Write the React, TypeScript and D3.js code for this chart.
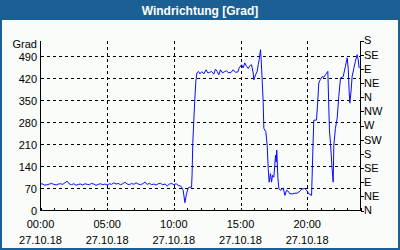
import React from "react";
import * as d3 from "d3";

const hours = [
  0, 0.17, 0.33, 0.5, 0.67, 0.83, 1, 1.17, 1.33, 1.5, 1.67, 1.83, 2, 2.17, 2.33, 2.5, 2.67, 2.83,
  3, 3.17, 3.33, 3.5, 3.67, 3.83, 4, 4.17, 4.33, 4.5, 4.67, 4.83, 5, 5.17, 5.33, 5.5, 5.67, 5.83,
  6, 6.17, 6.33, 6.5, 6.67, 6.83, 7, 7.17, 7.33, 7.5, 7.67, 7.83, 8, 8.17, 8.33, 8.5, 8.67, 8.83,
  9, 9.17, 9.33, 9.5, 9.67, 9.83, 10, 10.17, 10.33, 10.5,
  10.58, 10.7, 10.83, 10.95, 11.08, 11.2, 11.33, 11.37, 11.42, 11.5, 11.57, 11.65, 11.73, 11.85,
  11.95, 12.1, 12.25, 12.42, 12.55, 12.7, 12.82, 13, 13.12, 13.25, 13.37, 13.5, 13.65, 13.8,
  13.95, 14.1, 14.3, 14.45, 14.62, 14.8, 14.9, 15.08, 15.2, 15.32, 15.45, 15.58, 15.7, 15.83,
  15.95, 16, 16.13, 16.25, 16.33, 16.4, 16.5, 16.55, 16.63, 16.7, 16.75, 16.9, 17, 17.08, 17.15,
  17.25, 17.33, 17.4, 17.5, 17.63, 17.68, 17.72, 17.8, 17.88, 18.03, 18.2, 18.33, 18.45, 18.58,
  18.7, 18.9, 19.08, 19.25, 19.45, 19.6, 19.82, 19.95, 20.12, 20.33, 20.37, 20.45, 20.5, 20.7,
  20.8, 20.87, 21, 21.12, 21.25, 21.37, 21.55, 21.67, 21.75, 21.87, 21.95, 22, 22.12, 22.25,
  22.37, 22.5, 22.7, 22.87, 23, 23.08, 23.15, 23.2, 23.3, 23.37, 23.5, 23.62, 23.75, 23.83, 23.9,
];

const degrees = [
  85, 84, 80, 82, 84, 86, 83, 81, 84, 85, 83, 88, 93, 84, 82, 85, 80, 83,
  84, 81, 85, 83, 82, 86, 84, 80, 83, 85, 82, 84, 81, 85, 83, 88, 84, 86,
  82, 85, 90, 84, 82, 86, 83, 88, 84, 82, 85, 90, 83, 86, 82, 84, 81, 85,
  86, 82, 84, 78, 84, 86, 82, 85, 80, 78,
  74, 64, 25, 53, 72, 74, 74, 117, 213, 287, 351, 410, 437, 442,
  434, 441, 434, 447, 437, 439, 442, 433, 449, 442, 431, 447, 437, 441,
  444, 437, 439, 447, 439, 440, 453, 463, 453, 469, 458, 451, 460, 463,
  437, 415, 431, 442, 463, 479, 511, 479, 410, 346, 261, 250, 208, 133, 90,
  117, 90, 112, 106, 176, 154, 192, 106, 69, 64, 72, 48, 64, 61,
  53, 53, 55, 55, 61, 68, 70, 64, 53, 48, 106, 224, 287, 287,
  351, 405, 417, 425, 423, 431, 442, 256, 213, 133, 90, 208, 261, 293,
  362, 421, 425, 458, 485, 452, 378, 341, 383, 425, 452, 474, 495, 479, 452,
];

const yTicks = [0, 70, 140, 210, 280, 350, 420, 490];
const compassTicks = [0, 45, 90, 135, 180, 225, 270, 315, 360, 405, 450, 495, 540];
const compassLabels = ["N", "NE", "E", "SE", "S", "SW", "W", "NW", "N", "NE", "E", "SE", "S"];
const xMajorHours = [0, 5, 10, 15, 20];
const xTimeLabels = ["00:00", "05:00", "10:00", "15:00", "20:00"];
const dateLabel = "27.10.18";
const title = "Windrichtung [Grad]";
const unitLabel = "Grad";

const W = 400;
const H = 250;
const FONT = "'Liberation Sans', Arial, sans-serif";

export default function App() {
  const x = d3.scaleLinear().domain([0, 24]).range([40.5, 360.5]);
  const y = d3.scaleLinear().domain([0, 540]).range([210.5, 40.5]);
  const pts = hours.map((h, i) => [h, degrees[i]] as [number, number]);
  const line = d3
    .line<[number, number]>()
    .x((d) => x(d[0]))
    .y((d) => y(d[1]));
  const hourTicks = d3.range(0, 25);

  return (
    <svg
      width={W}
      height={H}
      style={{ position: "fixed", left: 0, top: 0, display: "block" }}
      fontFamily={FONT}
    >
      <rect x={0} y={0} width={W} height={H} fill="#1c5f94" />
      <rect x={2} y={20} width={W - 4} height={H - 22} fill="#f9fcf9" />
      <text
        x={W / 2}
        y={14.5}
        textAnchor="middle"
        fill="#ffffff"
        fontWeight="bold"
        fontSize={12}
      >
        {title}
      </text>

      {/* horizontal grid */}
      {yTicks.slice(1).map((t) => (
        <line
          key={"hg" + t}
          x1={x(0)}
          x2={x(24)}
          y1={Math.round(y(t)) + 0.5}
          y2={Math.round(y(t)) + 0.5}
          stroke="#000"
          strokeDasharray="3,3"
          shapeRendering="crispEdges"
        />
      ))}
      {/* vertical grid */}
      {xMajorHours.slice(1).map((h) => (
        <line
          key={"vg" + h}
          x1={Math.round(x(h)) + 0.5}
          x2={Math.round(x(h)) + 0.5}
          y1={y(540)}
          y2={y(0)}
          stroke="#000"
          strokeDasharray="3,3"
          shapeRendering="crispEdges"
        />
      ))}

      {/* data line */}
      <path d={line(pts) || ""} fill="none" stroke="#0a0aff" strokeWidth={1} />

      {/* axes */}
      <line x1={x(0)} x2={x(0)} y1={y(540)} y2={y(0)} stroke="#000" shapeRendering="crispEdges" />
      <line x1={x(24)} x2={x(24)} y1={y(540)} y2={y(0)} stroke="#000" shapeRendering="crispEdges" />
      <line x1={x(0)} x2={x(24)} y1={y(0)} y2={y(0)} stroke="#000" shapeRendering="crispEdges" />

      {/* hourly ticks */}
      {hourTicks.map((h) => (
        <line
          key={"ht" + h}
          x1={Math.round(x(h)) + 0.5}
          x2={Math.round(x(h)) + 0.5}
          y1={y(0)}
          y2={y(0) - 3}
          stroke="#000"
          shapeRendering="crispEdges"
        />
      ))}

      {/* left labels */}
      <text x={37} y={48} textAnchor="end" fontSize={11} fill="#000">
        {unitLabel}
      </text>
      {yTicks.map((t) => (
        <text
          key={"yl" + t}
          x={37}
          y={y(t)}
          dy="0.4em"
          textAnchor="end"
          fontSize={11}
          fill="#000"
        >
          {t}
        </text>
      ))}

      {/* right compass ticks & labels */}
      {compassTicks.map((t, i) => (
        <g key={"ct" + t}>
          <line
            x1={x(24)}
            x2={x(24) + 3}
            y1={Math.round(y(t)) + 0.5}
            y2={Math.round(y(t)) + 0.5}
            stroke="#000"
            shapeRendering="crispEdges"
          />
          <text x={364} y={y(t)} dy="0.36em" fontSize={11} fill="#000">
            {compassLabels[i]}
          </text>
        </g>
      ))}

      {/* x labels */}
      {xMajorHours.map((h, i) => (
        <g key={"xl" + h}>
          <text x={x(h)} y={228} textAnchor="middle" fontSize={11} fill="#000">
            {xTimeLabels[i]}
          </text>
          <text x={x(h)} y={244} textAnchor="middle" fontSize={11} fill="#000">
            {dateLabel}
          </text>
        </g>
      ))}
    </svg>
  );
}
